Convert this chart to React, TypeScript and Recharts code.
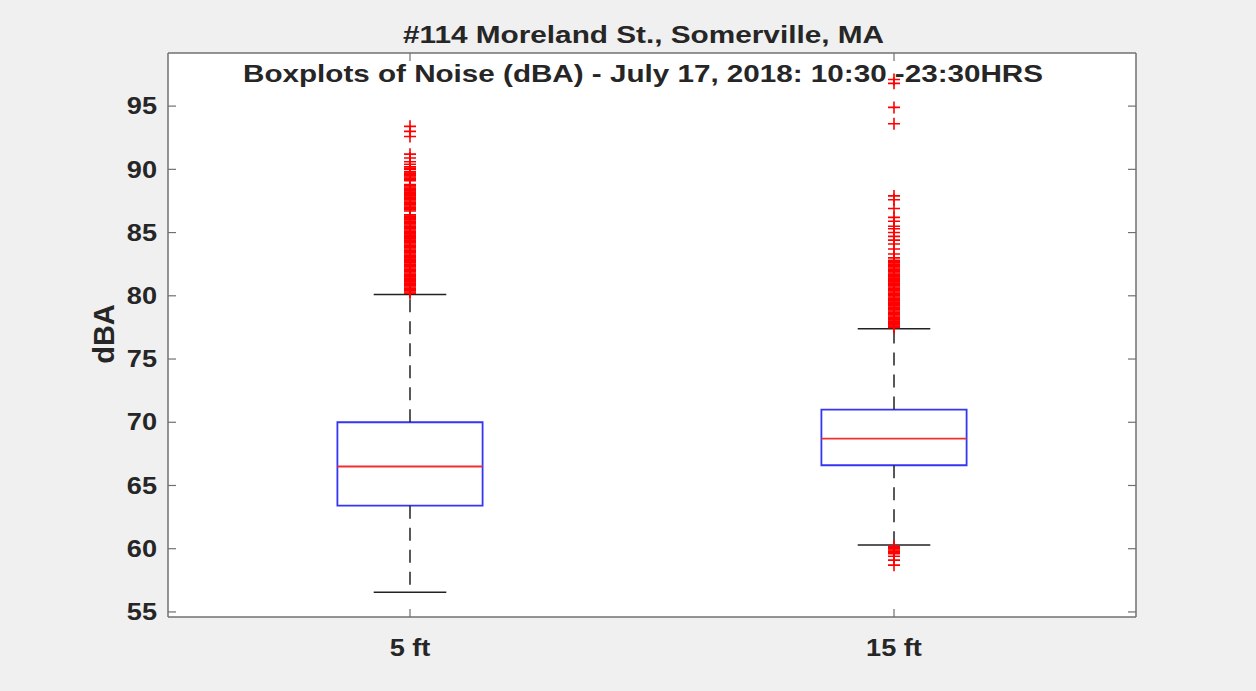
import {
  ComposedChart,
  XAxis,
  YAxis,
  Scatter,
  ReferenceArea,
  ReferenceLine,
  CartesianGrid,
} from "recharts";

const categories = ["5 ft", "15 ft"];
const positions = [1, 2];
const q1 = [63.4, 66.6];
const median = [66.5, 68.7];
const q3 = [70.0, 71.0];
const whiskerLow = [56.55, 60.3];
const whiskerHigh = [80.1, 77.4];

const outliers5ft = [
  80.2, 80.3, 80.4, 80.5, 80.6, 80.7, 80.8, 80.9, 81.0, 81.1, 81.2, 81.3, 81.4,
  81.5, 81.6, 81.7, 81.8, 81.9, 82.0, 82.1, 82.2, 82.3, 82.4, 82.5, 82.6, 82.7,
  82.8, 82.9, 83.0, 83.1, 83.2, 83.3, 83.4, 83.5, 83.6, 83.7, 83.8, 83.9, 84.0,
  84.1, 84.2, 84.3, 84.4, 84.5, 84.6, 84.7, 84.8, 84.9, 85.0, 85.1, 85.2, 85.3,
  85.4, 85.5, 85.6, 85.7, 85.8, 85.9, 86.0, 86.1, 86.2, 86.3, 86.4, 86.7, 86.8,
  86.9, 87.0, 87.1, 87.2, 87.3, 87.4, 87.5, 87.6, 87.7, 87.8, 87.9, 88.0, 88.1,
  88.2, 88.3, 88.4, 88.5, 88.6, 88.7, 88.8, 89.1, 89.2, 89.3, 89.4, 89.5, 89.6,
  89.7, 89.8, 90.0, 90.1, 90.2, 90.4, 90.6, 90.9, 91.2, 92.6, 93.0, 93.4,
];
const outliers15ft = [
  58.7, 59.1, 59.4, 59.6, 59.7, 59.8, 59.9, 60.0, 60.1, 60.2,
  77.5, 77.6, 77.7, 77.8, 77.9, 78.0, 78.1, 78.2, 78.3, 78.4, 78.5, 78.6, 78.7,
  78.8, 78.9, 79.0, 79.1, 79.2, 79.3, 79.4, 79.5, 79.6, 79.7, 79.8, 79.9, 80.0,
  80.1, 80.2, 80.3, 80.4, 80.5, 80.6, 80.7, 80.8, 80.9, 81.0, 81.1, 81.2, 81.3,
  81.4, 81.5, 81.6, 81.7, 81.8, 81.9, 82.0, 82.1, 82.2, 82.3, 82.4, 82.5, 82.6,
  82.7, 82.8, 83.0, 83.3, 83.7, 84.1, 84.4, 84.7, 85.0, 85.3, 85.5, 85.9, 86.2,
  86.9, 87.6, 87.9, 93.6, 94.9, 96.8, 97.1,
];

const yTicks = [55, 60, 65, 70, 75, 80, 85, 90, 95];
const yDomain = [54.6, 99.2];
const xDomain = [0.5, 2.5];

const font = "'Liberation Sans', Arial, sans-serif";
const textColor = "#262626";
const axisColor = "#707070";

const Plus = (props: any) => {
  const { cx, cy } = props;
  if (cx == null || cy == null) return null;
  const s = 6;
  return (
    <path
      d={`M${cx - s},${cy}H${cx + s}M${cx},${cy - s}V${cy + s}`}
      stroke="#ff0000"
      strokeWidth={1.6}
      fill="none"
    />
  );
};

const YTick = (props: any) => {
  const { x, y, payload } = props;
  return (
    <g transform={`translate(${x},${y}) scale(1.18,1)`}>
      <text
        x={0}
        y={0}
        dy="0.355em"
        textAnchor="end"
        fontFamily={font}
        fontWeight={700}
        fontSize={23}
        fill={textColor}
      >
        {payload.value}
      </text>
    </g>
  );
};

const XTick = (props: any) => {
  const { x, y, payload } = props;
  const label = categories[positions.indexOf(payload.value)] ?? "";
  return (
    <g transform={`translate(${x},${y}) scale(1.18,1)`}>
      <text
        x={0}
        y={0}
        dy="0.72em"
        textAnchor="middle"
        fontFamily={font}
        fontWeight={700}
        fontSize={23}
        fill={textColor}
      >
        {label}
      </text>
    </g>
  );
};

export default function App() {
  const outlierData = [
    outliers5ft.map((y) => ({ x: positions[0], y })),
    outliers15ft.map((y) => ({ x: positions[1], y })),
  ];
  const axisLine = { stroke: axisColor, strokeWidth: 1.5 };
  const tickLine = { stroke: axisColor, strokeWidth: 1.2 };

  return (
    <div
      style={{
        position: "absolute",
        top: 0,
        left: 0,
        width: 1256,
        height: 691,
        background: "#f0f0f0",
      }}
    >
      <ComposedChart
        width={1256}
        height={691}
        margin={{ top: 52, right: 119, bottom: 0, left: 0 }}
      >
        <CartesianGrid xAxisId="b" yAxisId="l" horizontal={false} vertical={false} fill="#ffffff" />
        <XAxis
          xAxisId="b"
          type="number"
          dataKey="x"
          domain={xDomain}
          ticks={positions}
          allowDataOverflow
          height={74}
          tickSize={-8}
          tickMargin={30}
          tick={<XTick />}
          axisLine={axisLine}
          tickLine={tickLine}
        />
        <XAxis
          xAxisId="t"
          orientation="top"
          type="number"
          dataKey="x"
          domain={xDomain}
          ticks={positions}
          allowDataOverflow
          height={1}
          tickSize={-8}
          tickFormatter={() => ""}
          axisLine={axisLine}
          tickLine={tickLine}
        />
        <YAxis
          yAxisId="l"
          type="number"
          domain={yDomain}
          ticks={yTicks}
          allowDataOverflow
          width={168}
          tickSize={-8}
          tickMargin={19}
          tick={<YTick />}
          axisLine={axisLine}
          tickLine={tickLine}
        />
        <YAxis
          yAxisId="r"
          orientation="right"
          type="number"
          domain={yDomain}
          ticks={yTicks}
          allowDataOverflow
          width={1}
          tickSize={-8}
          tickFormatter={() => ""}
          axisLine={axisLine}
          tickLine={tickLine}
        />

        {positions.map((p, i) => (
          <ReferenceLine
            key={`wu${i}`}
            xAxisId="b"
            yAxisId="l"
            segment={[{ x: p, y: q3[i] }, { x: p, y: whiskerHigh[i] }]}
            stroke="#222"
            strokeWidth={1.5}
            strokeDasharray="13 9"
          />
        ))}
        {positions.map((p, i) => (
          <ReferenceLine
            key={`wl${i}`}
            xAxisId="b"
            yAxisId="l"
            segment={[{ x: p, y: q1[i] }, { x: p, y: whiskerLow[i] }]}
            stroke="#222"
            strokeWidth={1.5}
            strokeDasharray="13 9"
          />
        ))}
        {positions.map((p, i) => (
          <ReferenceLine
            key={`ch${i}`}
            xAxisId="b"
            yAxisId="l"
            segment={[{ x: p - 0.075, y: whiskerHigh[i] }, { x: p + 0.075, y: whiskerHigh[i] }]}
            stroke="#222"
            strokeWidth={1.5}
          />
        ))}
        {positions.map((p, i) => (
          <ReferenceLine
            key={`cl${i}`}
            xAxisId="b"
            yAxisId="l"
            segment={[{ x: p - 0.075, y: whiskerLow[i] }, { x: p + 0.075, y: whiskerLow[i] }]}
            stroke="#222"
            strokeWidth={1.5}
          />
        ))}
        {positions.map((p, i) => (
          <ReferenceArea
            key={`box${i}`}
            xAxisId="b"
            yAxisId="l"
            x1={p - 0.15}
            x2={p + 0.15}
            y1={q1[i]}
            y2={q3[i]}
            stroke="#3535f2"
            strokeWidth={1.8}
            fill="#ffffff"
            fillOpacity={0}
          />
        ))}
        {positions.map((p, i) => (
          <ReferenceLine
            key={`med${i}`}
            xAxisId="b"
            yAxisId="l"
            segment={[{ x: p - 0.15, y: median[i] }, { x: p + 0.15, y: median[i] }]}
            stroke="#f03030"
            strokeWidth={1.8}
          />
        ))}
        <Scatter
          xAxisId="b"
          yAxisId="l"
          data={outlierData[0]}
          dataKey="y"
          shape={Plus}
          isAnimationActive={false}
        />
        <Scatter
          xAxisId="t"
          yAxisId="r"
          data={outlierData[1]}
          dataKey="y"
          shape={Plus}
          isAnimationActive={false}
        />
      </ComposedChart>
      <svg
        width={1256}
        height={691}
        style={{ position: "absolute", top: 0, left: 0, pointerEvents: "none" }}
      >
        <text
          x={643.5}
          y={34}
          textAnchor="middle"
          dominantBaseline="central"
          textLength={481}
          lengthAdjust="spacingAndGlyphs"
          fontFamily={font}
          fontWeight={700}
          fontSize={24}
          fill={textColor}
        >
          #114 Moreland St., Somerville, MA
        </text>
        <text
          x={643}
          y={73}
          textAnchor="middle"
          dominantBaseline="central"
          textLength={800}
          lengthAdjust="spacingAndGlyphs"
          fontFamily={font}
          fontWeight={700}
          fontSize={24}
          fill={textColor}
        >
          Boxplots of Noise (dBA) - July 17, 2018: 10:30 -23:30HRS
        </text>
        <text
          x={104}
          y={334}
          textAnchor="middle"
          dominantBaseline="central"
          transform="rotate(-90 104 334)"
          fontFamily={font}
          fontWeight={700}
          fontSize={29}
          fill={textColor}
        >
          dBA
        </text>
      </svg>
    </div>
  );
}
